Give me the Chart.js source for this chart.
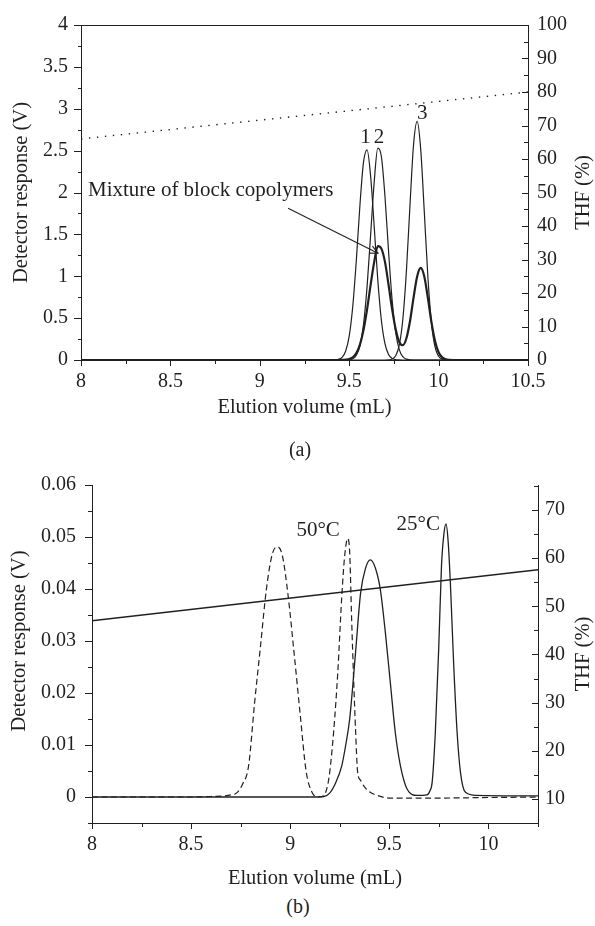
<!DOCTYPE html>
<html>
<head>
<meta charset="utf-8">
<script src="https://cdn.jsdelivr.net/npm/chart.js@4.4.1/dist/chart.umd.min.js"></script>
<style>
  html, body { margin: 0; padding: 0; background: #fff; }
  body { width: 595px; height: 926px; position: relative; overflow: hidden; }
  canvas { position: absolute; left: 0; }
  #cA { top: 0; }
  #cB { top: 440px; }
  .cap { position: absolute; font-family: "Liberation Serif", "DejaVu Serif", serif; font-size: 20px; color: #231f20; transform: translate(-50%, -50%); line-height: 1; }
</style>
</head>
<body>
<canvas id="cA" width="595" height="420"></canvas>
<canvas id="cB" width="595" height="451"></canvas>
<div class="cap" style="left:300px; top:449px;">(a)</div>
<div class="cap" style="left:298px; top:906px;">(b)</div>
<script>
// ---------------- Panel (a) data ----------------
const elutionA = [8.0, 9.30, 9.40, 9.42, 9.44, 9.46, 9.48, 9.50, 9.52, 9.54, 9.56, 9.58, 9.60, 9.62, 9.64, 9.66, 9.68, 9.70, 9.72, 9.74, 9.76, 9.78, 9.80, 9.82, 9.84, 9.86, 9.88, 9.90, 9.92, 9.94, 9.96, 9.98, 10.00, 10.02, 10.04, 10.06, 10.08, 10.10, 10.5];
const peak1 = [0, 0, 0.001, 0.002, 0.008, 0.032, 0.104, 0.284, 0.641, 1.196, 1.848, 2.363, 2.51, 2.191, 1.589, 0.954, 0.474, 0.195, 0.066, 0.019, 0.004, 0.001, 0, 0, 0, 0, 0, 0, 0, 0, 0, 0, 0, 0, 0, 0, 0, 0, 0];
const peak2 = [0, 0, 0, 0, 0, 0, 0.001, 0.004, 0.015, 0.056, 0.169, 0.423, 0.876, 1.501, 2.130, 2.53, 2.43, 1.956, 1.303, 0.718, 0.328, 0.124, 0.039, 0.010, 0.002, 0, 0, 0, 0, 0, 0, 0, 0, 0, 0, 0, 0, 0, 0];
const peak3 = [0, 0, 0, 0, 0, 0, 0, 0, 0, 0, 0, 0, 0, 0, 0, 0, 0, 0, 0.002, 0.012, 0.051, 0.177, 0.486, 1.062, 1.852, 2.573, 2.85, 2.515, 1.770, 0.993, 0.444, 0.158, 0.045, 0.010, 0.002, 0, 0, 0, 0];
const mixture = [0, 0, 0, 0, 0, 0.001, 0.004, 0.011, 0.033, 0.083, 0.184, 0.357, 0.605, 0.900, 1.172, 1.36, 1.33, 1.172, 0.900, 0.607, 0.366, 0.215, 0.176, 0.260, 0.463, 0.745, 0.998, 1.100, 0.997, 0.741, 0.452, 0.227, 0.093, 0.031, 0.009, 0.002, 0, 0, 0];
const thfXA = [8.0, 10.5];
const thfA = [66, 80];
const xTicksA = [8, 8.5, 9, 9.5, 10, 10.5];
const xMinorA = [8.25, 8.75, 9.25, 9.75, 10.25];
const yTicksA = [0, 0.5, 1, 1.5, 2, 2.5, 3, 3.5, 4];
const yMinorA = [0.25, 0.75, 1.25, 1.75, 2.25, 2.75, 3.25, 3.75];
const rTicksA = [0, 10, 20, 30, 40, 50, 60, 70, 80, 90, 100];
const rMinorA = [5, 15, 25, 35, 45, 55, 65, 75, 85, 95];

// ---------------- Panel (b) data ----------------
const elution50 = [8.0, 8.50, 8.60, 8.70, 8.73, 8.76, 8.79, 8.82, 8.85, 8.88, 8.91, 8.935, 8.96, 8.99, 9.02, 9.05, 9.08, 9.11, 9.14, 9.17, 9.19, 9.20, 9.22, 9.24, 9.26, 9.275, 9.29, 9.30, 9.31, 9.32, 9.33, 9.34, 9.355, 9.37, 9.40, 9.44, 9.50, 9.75, 10.0, 10.25];
const signal50 = [0, 0, 0.0001, 0.0004, 0.0008, 0.0025, 0.0060, 0.0180, 0.0290, 0.0400, 0.0468, 0.0481, 0.0465, 0.0385, 0.0275, 0.0160, 0.0050, 0.0009, 0.0000, 0.0003, 0.0025, 0.0050, 0.0130, 0.0240, 0.0385, 0.0465, 0.0497, 0.0470, 0.0340, 0.0225, 0.0125, 0.0048, 0.0032, 0.0022, 0.0010, 0.0003, -0.0002, -0.0002, -0.0001, 0];
const elution25 = [8.0, 9.10, 9.17, 9.20, 9.23, 9.26, 9.28, 9.30, 9.33, 9.355, 9.38, 9.404, 9.43, 9.455, 9.48, 9.505, 9.53, 9.556, 9.59, 9.64, 9.69, 9.705, 9.716, 9.732, 9.749, 9.763, 9.775, 9.786, 9.797, 9.808, 9.825, 9.842, 9.859, 9.884, 9.94, 10.25];
const signal25 = [0, 0, 0.0001, 0.0008, 0.0028, 0.0060, 0.0100, 0.0150, 0.0280, 0.0392, 0.0440, 0.0456, 0.0440, 0.0398, 0.0316, 0.0220, 0.0124, 0.0060, 0.0015, 0.0003, 0.0004, 0.0012, 0.0028, 0.0124, 0.0284, 0.0443, 0.0505, 0.0525, 0.0490, 0.0411, 0.0252, 0.0124, 0.0047, 0.0009, 0.0003, 0.0002];
const thfXB = [8.0, 10.25];
const thfB = [47, 57.6];
const xTicksB = [8, 8.5, 9, 9.5, 10];
const xMinorB = [8.25, 8.75, 9.25, 9.75, 10.25];
const yTicksB = [0, 0.01, 0.02, 0.03, 0.04, 0.05, 0.06];
const yMinorB = [-0.005, 0.005, 0.015, 0.025, 0.035, 0.045, 0.055];
const rTicksB = [10, 20, 30, 40, 50, 60, 70];
const rMinorB = [5, 15, 25, 35, 45, 55, 65, 75];

// ---------------- styling ----------------
const INK = '#231f20';
const FONT = '"Liberation Serif", "DejaVu Serif", serif';
const FS = 20;      // tick labels
const FS_T = 20.5;  // axis titles
const FS_A = 21;    // in-plot annotations

const pts = (xs, ys) => xs.map((x, i) => ({ x: x, y: ys[i] }));
const fixTicks = (vals) => (s) => { s.ticks = vals.map(v => ({ value: v })); };

function tickPlugin(specs) {
  return {
    id: 'tickMarks',
    afterDraw(chart) {
      const ctx = chart.ctx;
      ctx.save();
      ctx.strokeStyle = INK;
      ctx.lineWidth = 1;
      specs.forEach(spec => {
        const s = chart.scales[spec.id];
        const draw = (vals, len) => vals.forEach(v => {
          const p = Math.round(s.getPixelForValue(v)) + 0.5;
          ctx.beginPath();
          if (spec.side === 'left') {
            const x = s.right, d = spec.dir === 'out' ? -len : len;
            ctx.moveTo(x, p); ctx.lineTo(x + d, p);
          } else if (spec.side === 'right') {
            const x = s.left, d = spec.dir === 'out' ? len : -len;
            ctx.moveTo(x, p); ctx.lineTo(x + d, p);
          } else {
            const y = s.top, d = spec.dir === 'out' ? len : -len;
            ctx.moveTo(p, y); ctx.lineTo(p, y + d);
          }
          ctx.stroke();
        });
        draw(spec.major, spec.majorLen);
        draw(spec.minor, spec.minorLen);
      });
      ctx.restore();
    }
  };
}

function textPlugin(cfg) {
  return {
    id: 'texts',
    afterDraw(chart) {
      const ctx = chart.ctx;
      const sx = chart.scales.x, sy = chart.scales.y, sr = chart.scales.y2;
      const area = chart.chartArea;
      ctx.save();
      ctx.fillStyle = INK;
      ctx.strokeStyle = INK;
      ctx.font = FS_A + 'px ' + FONT;
      ctx.textBaseline = 'middle';
      // in-plot labels
      cfg.labels.forEach(l => {
        ctx.textAlign = l.align || 'center';
        ctx.fillText(l.text, sx.getPixelForValue(l.x), sy.getPixelForValue(l.y));
      });
      // arrow
      if (cfg.arrow) {
        const a = cfg.arrow;
        const x1 = sx.getPixelForValue(a.from[0]), y1 = sy.getPixelForValue(a.from[1]);
        const x2 = sx.getPixelForValue(a.to[0]), y2 = sy.getPixelForValue(a.to[1]);
        ctx.lineWidth = 1.1;
        ctx.beginPath(); ctx.moveTo(x1, y1); ctx.lineTo(x2, y2); ctx.stroke();
        const ang = Math.atan2(y2 - y1, x2 - x1);
        const L = 9, w = 0.45;
        ctx.beginPath();
        ctx.moveTo(x2 - L * Math.cos(ang - w), y2 - L * Math.sin(ang - w));
        ctx.lineTo(x2, y2);
        ctx.lineTo(x2 - L * Math.cos(ang + w), y2 - L * Math.sin(ang + w));
        ctx.stroke();
      }
      // top frame
      if (cfg.topBorder) {
        ctx.lineWidth = 1;
        ctx.beginPath();
        ctx.moveTo(area.left, Math.round(area.top) + 0.5);
        ctx.lineTo(area.right, Math.round(area.top) + 0.5);
        ctx.stroke();
      }
      // axis titles (rotated, reading bottom-to-top)
      ctx.font = FS_T + 'px ' + FONT;
      const leftMid = (sy.getPixelForValue(cfg.leftRange[0]) + sy.getPixelForValue(cfg.leftRange[1])) / 2;
      const rightMid = (sr.top + sr.bottom) / 2;
      ctx.textAlign = 'center';
      [[cfg.leftTitle, cfg.leftX, leftMid], [cfg.rightTitle, cfg.rightX, rightMid]].forEach(t => {
        ctx.save();
        ctx.translate(t[1], t[2]);
        ctx.rotate(-Math.PI / 2);
        ctx.fillText(t[0], 0, 0);
        ctx.restore();
      });
      ctx.restore();
    }
  };
}

Chart.defaults.font.family = FONT;
Chart.defaults.font.size = FS;
Chart.defaults.color = INK;

function axisCommon() {
  return {
    grid: { display: false, drawTicks: false, tickLength: 0 },
    border: { display: true, color: INK, width: 1 },
  };
}

// ---------------- Chart (a) ----------------
new Chart(document.getElementById('cA'), {
  type: 'line',
  data: {
    datasets: [
      { data: pts(elutionA, peak1), borderColor: INK, borderWidth: 1.2, pointRadius: 0, cubicInterpolationMode: 'monotone', yAxisID: 'y' },
      { data: pts(elutionA, peak2), borderColor: INK, borderWidth: 1.2, pointRadius: 0, cubicInterpolationMode: 'monotone', yAxisID: 'y' },
      { data: pts(elutionA, peak3), borderColor: INK, borderWidth: 1.2, pointRadius: 0, cubicInterpolationMode: 'monotone', yAxisID: 'y' },
      { data: pts(elutionA, mixture), borderColor: INK, borderWidth: 2.2, pointRadius: 0, cubicInterpolationMode: 'monotone', yAxisID: 'y' },
      { data: pts(thfXA, thfA), borderColor: INK, borderWidth: 1.4, borderDash: [1.4, 6.6], pointRadius: 0, yAxisID: 'y2' }
    ]
  },
  options: {
    responsive: false,
    animation: false,
    events: [],
    layout: { padding: { top: 23, left: 0, right: 0, bottom: 0 } },
    plugins: { legend: { display: false }, tooltip: { enabled: false } },
    scales: {
      x: Object.assign(axisCommon(), {
        type: 'linear', min: 8, max: 10.5,
        afterBuildTicks: fixTicks(xTicksA),
        afterFit: s => { s.height = 60; },
        ticks: { padding: 9.5, maxRotation: 0, autoSkip: false, callback: v => String(v) },
        title: { display: true, text: 'Elution volume (mL)', font: { size: FS_T }, padding: { top: 0, bottom: 0 } }
      }),
      y: Object.assign(axisCommon(), {
        position: 'left', min: 0, max: 4,
        afterBuildTicks: fixTicks(yTicksA),
        afterFit: s => { s.width = 81; },
        ticks: { padding: 13, autoSkip: false, callback: v => String(v) }
      }),
      y2: Object.assign(axisCommon(), {
        position: 'right', min: 0, max: 100,
        afterBuildTicks: fixTicks(rTicksA),
        afterFit: s => { s.width = 67; },
        ticks: { padding: 9, autoSkip: false, callback: v => String(v) }
      })
    }
  },
  plugins: [
    tickPlugin([
      { id: 'x', side: 'bottom', dir: 'out', major: xTicksA, minor: xMinorA, majorLen: 6, minorLen: 4 },
      { id: 'y', side: 'left', dir: 'out', major: yTicksA, minor: yMinorA, majorLen: 7, minorLen: 3 },
      { id: 'y2', side: 'right', dir: 'in', major: rTicksA, minor: rMinorA, majorLen: 6, minorLen: 4 }
    ]),
    textPlugin({
      labels: [
        { text: '1', x: 9.591, y: 2.66 },
        { text: '2', x: 9.666, y: 2.66 },
        { text: '3', x: 9.908, y: 2.94 },
        { text: 'Mixture of block copolymers', x: 8.039, y: 2.02, align: 'left' }
      ],
      arrow: { from: [9.158, 1.812], to: [9.661, 1.274] },
      topBorder: true,
      leftTitle: 'Detector response (V)', leftX: 22, leftRange: [0, 4],
      rightTitle: 'THF (%)', rightX: 584
    })
  ]
});

// ---------------- Chart (b) ----------------
new Chart(document.getElementById('cB'), {
  type: 'line',
  data: {
    datasets: [
      { data: pts(elution50, signal50), borderColor: INK, borderWidth: 1.2, borderDash: [6, 3.5], pointRadius: 0, cubicInterpolationMode: 'monotone', yAxisID: 'y' },
      { data: pts(elution25, signal25), borderColor: INK, borderWidth: 1.3, pointRadius: 0, cubicInterpolationMode: 'monotone', yAxisID: 'y' },
      { data: pts(thfXB, thfB), borderColor: INK, borderWidth: 1.3, pointRadius: 0, yAxisID: 'y2' }
    ]
  },
  options: {
    responsive: false,
    animation: false,
    events: [],
    layout: { padding: { top: 45, left: 0, right: 0, bottom: 0 } },
    plugins: { legend: { display: false }, tooltip: { enabled: false } },
    scales: {
      x: Object.assign(axisCommon(), {
        type: 'linear', min: 8, max: 10.25,
        afterBuildTicks: fixTicks(xTicksB),
        afterFit: s => { s.height = 68; },
        ticks: { padding: 10, maxRotation: 0, autoSkip: false, callback: v => String(v) },
        title: { display: true, text: 'Elution volume (mL)', font: { size: FS_T }, padding: { top: 0, bottom: 0 } }
      }),
      y: Object.assign(axisCommon(), {
        position: 'left', min: -0.005, max: 0.06,
        afterBuildTicks: fixTicks(yTicksB),
        afterFit: s => { s.width = 92; },
        ticks: { padding: 16, autoSkip: false, callback: v => String(v) }
      }),
      y2: Object.assign(axisCommon(), {
        position: 'right', min: 5, max: 75.2,
        afterBuildTicks: fixTicks(rTicksB),
        afterFit: s => { s.width = 57; },
        ticks: { padding: 7, autoSkip: false, callback: v => String(v) }
      })
    }
  },
  plugins: [
    tickPlugin([
      { id: 'x', side: 'bottom', dir: 'out', major: xTicksB, minor: xMinorB, majorLen: 6, minorLen: 4 },
      { id: 'y', side: 'left', dir: 'out', major: yTicksB, minor: yMinorB, majorLen: 7, minorLen: 4 },
      { id: 'y2', side: 'right', dir: 'in', major: rTicksB, minor: rMinorB, majorLen: 6, minorLen: 4 }
    ]),
    textPlugin({
      labels: [
        { text: '50°C', x: 9.141, y: 0.0512 },
        { text: '25°C', x: 9.646, y: 0.0524 }
      ],
      topBorder: false,
      leftTitle: 'Detector response (V)', leftX: 20, leftRange: [0, 0.06],
      rightTitle: 'THF (%)', rightX: 584
    })
  ]
});
</script>
</body>
</html>
